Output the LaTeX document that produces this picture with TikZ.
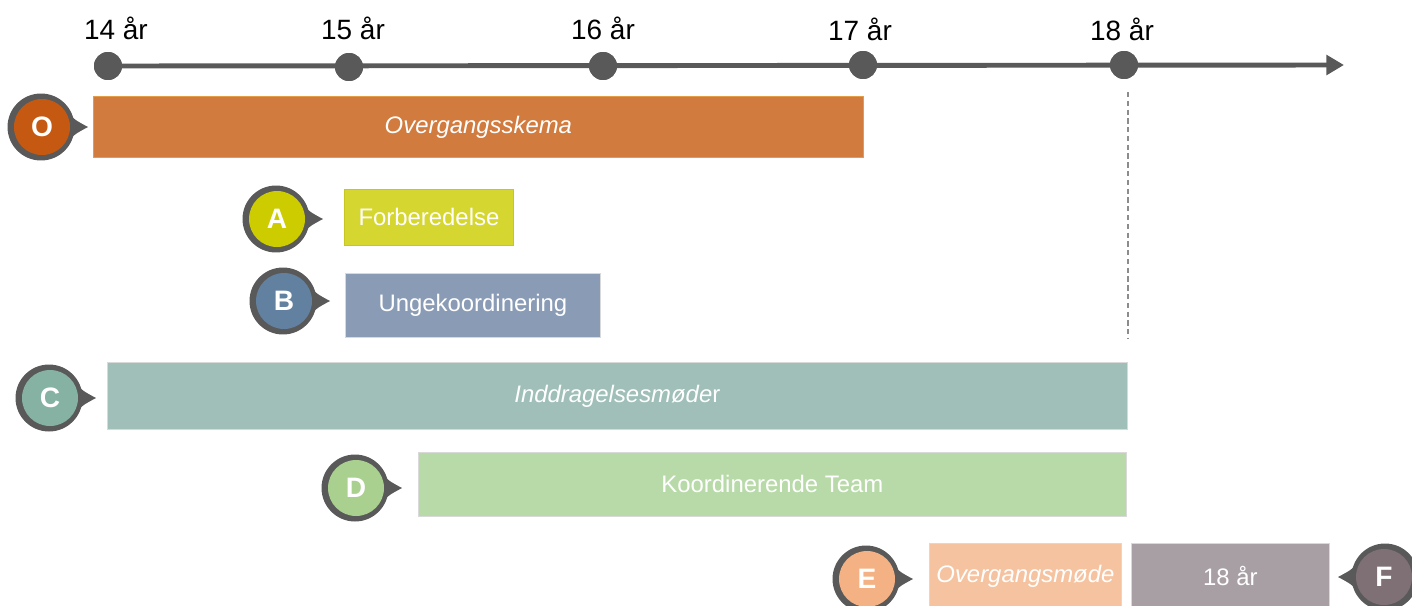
\documentclass[tikz,border=0pt]{standalone}
\usepackage{fontspec}
\setmainfont{Liberation Sans}
\usetikzlibrary{arrows.meta}
\definecolor{axisgray}{HTML}{595959}
\definecolor{dashgray}{HTML}{8C8C8C}
\definecolor{barO}{HTML}{D17B3F}
\definecolor{barOb}{HTML}{E39C48}
\definecolor{barA}{HTML}{D6D630}
\definecolor{barAb}{HTML}{C8C620}
\definecolor{barB}{HTML}{8A9BB5}
\definecolor{barC}{HTML}{9FBFB8}
\definecolor{barD}{HTML}{B8DAA8}
\definecolor{barE}{HTML}{F6C3A0}
\definecolor{barF}{HTML}{A89FA4}
\definecolor{dotO}{HTML}{C65911}
\definecolor{dotA}{HTML}{CCCC00}
\definecolor{dotB}{HTML}{62809F}
\definecolor{dotC}{HTML}{86B2A3}
\definecolor{dotD}{HTML}{A9D08E}
\definecolor{dotE}{HTML}{F4B183}
\definecolor{dotF}{HTML}{7F7076}
\tikzset{
  tick/.style={circle, fill=axisgray, minimum size=0.56cm, inner sep=0pt},
  yearlbl/.style={font=\fontsize{15.9}{18}\selectfont, text=black, inner sep=0pt},
  axisline/.style={draw=axisgray, line width=2.8pt, -{Triangle[length=10pt,width=11pt]}},
  bar/.style={anchor=north west, inner sep=0pt, text=white, font=\fontsize{13.6}{16}\selectfont, draw=white!85!black, line width=0.5pt},
  letterdot/.style={circle, inner sep=0pt, minimum size=1.12cm, text=white, font=\fontsize{16}{18}\selectfont\bfseries},
  ring/.style={fill=axisgray},
}
\newcommand\mycallout[6]{%
  \fill[ring] (#2+#6*24,#3-20) .. controls (#2+#6*32,#3-8) .. (#2+#6*47,#3)
     .. controls (#2+#6*32,#3+8) .. (#2+#6*24,#3+20) -- cycle;
  \fill[ring] (#2,#3) circle[radius=0.67cm];
  \node[letterdot, fill=#4] (#1) at (#2+#6*1,#3) {#5};
}
\begin{document}
\begin{tikzpicture}[x=0.02cm,y=-0.02cm]
\useasboundingbox (0,0) rectangle (1412,605);
\clip (0,0) rectangle (1412,605);
% timeline
\node[tick] (t14) at (108,66) {};
\node[tick] (t15) at (349,67) {};
\node[tick] (t16) at (603,66) {};
\node[tick] (t17) at (863,65) {};
\node[tick] (t18) at (1124,65) {};
\coordinate (tend) at (1344,65);
\draw[axisline] (t14.center) -- (tend);
\node[tick] at (t14) {};
\node[tick] at (t15) {};
\node[tick] at (t16) {};
\node[tick] at (t17) {};
\node[tick] at (t18) {};
\node[yearlbl] (l14) at (116,28) {14 år};
\node[yearlbl] (l15) at (353,28) {15 år};
\node[yearlbl] (l16) at (603,28) {16 år};
\node[yearlbl] (l17) at (860,29) {17 år};
\node[yearlbl] (l18) at (1122,29) {18 år};
% dashed marker
\coordinate (d1) at (1128,92);
\coordinate (d2) at (1128,338);
\draw[dashgray, line width=0.6pt, dash pattern=on 3pt off 2pt] (d1) -- (d2);
% bars
\node[bar, fill=barO, draw=barOb, minimum width=15.4cm, minimum height=1.22cm] (bO) at (93,96) {\itshape Overgangsskema};
\node[bar, fill=barA, draw=barAb, minimum width=3.38cm, minimum height=1.12cm] (bA) at (344,189) {Forberedelse};
\node[bar, fill=barB, minimum width=5.10cm, minimum height=1.28cm] (bB) at (345,273) {Ungekoordinering};
\node[bar, fill=barC, minimum width=20.4cm, minimum height=1.34cm] (bC) at (107,362) {{\itshape Inddragelsesmøde}r};
\node[bar, fill=barD, minimum width=14.16cm, minimum height=1.28cm] (bD) at (418,452) {Koordinerende Team};
\node[bar, fill=barE, minimum width=3.84cm, minimum height=1.32cm] (bE) at (929,543) {\itshape Overgangsmøde};
\node[bar, fill=barF, minimum width=3.96cm, minimum height=1.32cm] (bF) at (1131,543) {18 år};
% callouts
\mycallout{cO}{41}{127}{dotO}{O}{1}
\mycallout{cA}{276}{219}{dotA}{A}{1}
\mycallout{cB}{283}{301}{dotB}{B}{1}
\mycallout{cC}{49}{398}{dotC}{C}{1}
\mycallout{cD}{355}{488}{dotD}{D}{1}
\mycallout{cE}{866}{579}{dotE}{E}{1}
\mycallout{cF}{1385}{577}{dotF}{F}{-1}
\end{tikzpicture}
\end{document}
